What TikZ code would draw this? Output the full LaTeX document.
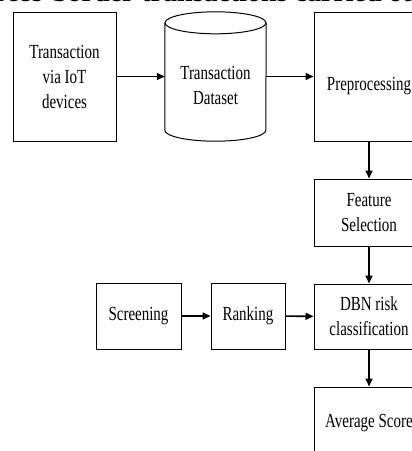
\documentclass[tikz,border=0pt]{standalone}
\usepackage{fontspec}
\setmainfont{Liberation Serif}[FakeStretch=0.75]
\newfontfamily\titlefont{Liberation Serif}
\usetikzlibrary{arrows.meta}
\begin{document}
\begin{tikzpicture}[x=1pt,y=1pt,
  box/.style={draw, line width=1pt, inner sep=0pt, align=center,
    font=\fontsize{20}{25}\selectfont},
  lbl/.style={align=center, inner sep=0pt, font=\fontsize{20}{25}\selectfont},
  conn/.style={line width=1.6pt, -{Triangle[length=8pt,width=7pt]}}]
\useasboundingbox (0,0) rectangle (412,-451);
\clip (0,0) rectangle (412,-451);
\node[anchor=base west, inner sep=0pt, outer sep=0pt, font=\titlefont\bfseries\fontsize{28}{30}\selectfont] (title) at (-5,-1) {ross-border transactions carried out};

\node[box, minimum width=103pt, minimum height=129pt] (iot) at (64.5,-76.5) {Transaction\\via IoT\\devices};
\node[inner sep=0pt, minimum width=101pt, minimum height=129pt] (cyl) at (215.5,-76.5) {};
\node[lbl] (cyltext) at (215.5,-85) {Transaction\\Dataset};
\draw[line width=1pt] ([yshift=-11pt]cyl.north west) -- ([yshift=11pt]cyl.south west)
  arc[start angle=180, end angle=360, x radius=50.5pt, y radius=11pt]
  -- ([yshift=-11pt]cyl.north east);
\draw[line width=1pt] ([yshift=-11pt]cyl.north) ellipse[x radius=50.5pt, y radius=11pt];

\node[box, minimum width=110pt, minimum height=129pt] (pre) at (369,-76.5) {};
\node[lbl] (pretext) at (369,-86) {Preprocessing};
\node[box, minimum width=110pt, minimum height=67pt] (feat) at (369,-212.5) {Feature\\Selection};
\node[box, minimum width=110pt, minimum height=65pt] (dbn) at (369,-316.5) {DBN risk\\classification};
\node[box, minimum width=110pt, minimum height=73pt] (avg) at (369,-423.5) {Average Score};
\node[box, minimum width=85pt, minimum height=66pt] (scr) at (138.5,-316) {Screening};
\node[box, minimum width=74pt, minimum height=66pt] (rank) at (248,-316) {Ranking};

\draw[conn] (iot) -- (cyl);
\draw[conn] (cyl) -- (pre);
\draw[conn] (pre) -- (feat);
\draw[conn] (feat) -- (dbn);
\draw[conn] (dbn) -- (avg);
\draw[conn] (scr) -- (rank);
\draw[conn] (rank) -- (dbn);
\end{tikzpicture}
\end{document}
